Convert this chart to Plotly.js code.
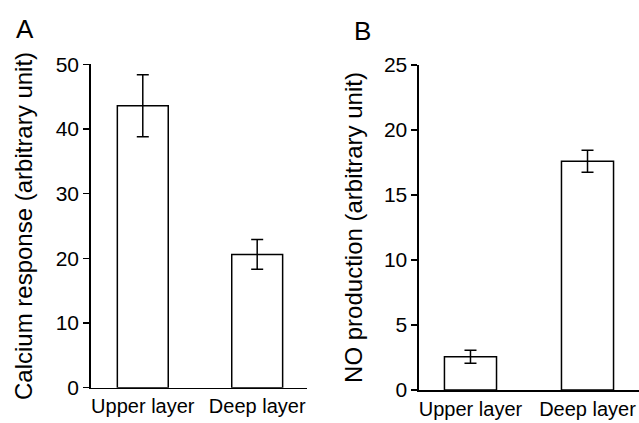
<!DOCTYPE html>
<html>
<head>
<meta charset="utf-8">
<script src="https://cdn.plot.ly/plotly-3.0.1.min.js"></script>
<style>html,body{margin:0;padding:0;background:#fff;}#chart{width:639px;height:423px;}</style>
</head>
<body>
<div id="chart"></div>
<script>
const categories = ['Upper layer', 'Deep layer'];
const calciumValues = [43.6, 20.6];
const calciumErrors = [4.8, 2.3];
const noValues = [2.55, 17.6];
const noErrors = [0.5, 0.85];
const calciumTicks = [0, 10, 20, 30, 40, 50];
const noTicks = [0, 5, 10, 15, 20, 25];

const FONT = 'Liberation Sans, Arial, Helvetica, sans-serif';
const barStyle = {
  type: 'bar',
  width: 0.445,
  marker: {color: '#ffffff', line: {color: '#000000', width: 1.5}},
  showlegend: false,
  hoverinfo: 'skip'
};

const traces = [
  Object.assign({}, barStyle, {
    x: [0, 1], y: calciumValues,
    error_y: {type: 'data', array: calciumErrors, visible: true, color: '#000', thickness: 1.5, width: 6},
    xaxis: 'x', yaxis: 'y'
  }),
  Object.assign({}, barStyle, {
    x: [0, 1], y: noValues,
    error_y: {type: 'data', array: noErrors, visible: true, color: '#000', thickness: 1.5, width: 6},
    xaxis: 'x2', yaxis: 'y2'
  })
];

const xBase = {
  tickmode: 'array', tickvals: [0, 1], ticktext: categories,
  showline: true, linecolor: '#000', linewidth: 1.5,
  ticks: '', showgrid: false, zeroline: false,
  tickfont: {family: FONT, size: 20, color: '#000'},
  automargin: false, fixedrange: true
};
const yBase = {
  showline: true, linecolor: '#000', linewidth: 1.5,
  ticks: 'outside', ticklen: 6, tickwidth: 1.5, tickcolor: '#000',
  showgrid: false, zeroline: false,
  tickfont: {family: FONT, size: 21, color: '#000'},
  automargin: false, fixedrange: true
};

const layout = {
  width: 639, height: 423,
  margin: {l: 0, r: 0, t: 0, b: 0},
  paper_bgcolor: '#fff', plot_bgcolor: '#fff',
  font: {family: FONT, color: '#000'},
  xaxis: Object.assign({}, xBase, {domain: [0.142, 0.480], range: [-0.455, 1.433], anchor: 'y'}),
  yaxis: Object.assign({}, yBase, {domain: [0.0835, 0.848], range: [0, 50], tickvals: calciumTicks, anchor: 'x',
    title: {text: 'Calcium response (arbitrary unit)', font: {family: FONT, size: 24, color: '#000'}, standoff: 16}}),
  xaxis2: Object.assign({}, xBase, {domain: [0.6557, 1.0], range: [-0.44, 1.44], anchor: 'y2'}),
  yaxis2: Object.assign({}, yBase, {domain: [0.078, 0.8463], range: [0, 25], tickvals: noTicks, anchor: 'x2',
    title: {text: 'NO production (arbitrary unit)', font: {family: FONT, size: 24, color: '#000'}, standoff: 14}}),
  annotations: [
    {text: 'A', x: 25, y: 29, xref: 'paper', yref: 'paper', xanchor: 'center', yanchor: 'middle', showarrow: false, font: {family: FONT, size: 26, color: '#000'}},
    {text: 'B', x: 362, y: 31, xref: 'paper', yref: 'paper', xanchor: 'center', yanchor: 'middle', showarrow: false, font: {family: FONT, size: 26, color: '#000'}}
  ]
};
// annotation positions given in pixels, convert to paper fractions
layout.annotations.forEach(a => { a.x = a.x / 639; a.y = 1 - a.y / 423; });

Plotly.newPlot('chart', traces, layout, {displayModeBar: false, staticPlot: true});
</script>
</body>
</html>
